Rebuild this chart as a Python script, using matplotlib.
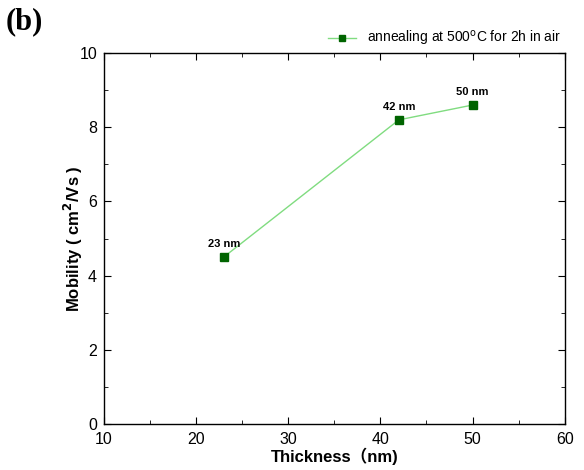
import matplotlib.pyplot as plt
from matplotlib.ticker import MultipleLocator

plt.rcParams['font.family'] = ['Liberation Sans', 'Noto Sans CJK SC', 'DejaVu Sans']

thickness = [23, 42, 50]
mobility = [4.5, 8.2, 8.6]
point_labels = ["23 nm", "42 nm", "50 nm"]

fig = plt.figure(figsize=(5.84, 4.70), dpi=100)
ax = fig.add_axes([0.178, 0.098, 0.789, 0.789])

ax.plot(thickness, mobility, color='#80dc80', lw=1.0, marker='s', ms=6,
        mfc='#006400', mec='#006400',
        label=r'annealing at 500$^{\mathrm{o}}$C for 2h in air')

for x, y, t in zip(thickness, mobility, point_labels):
    ax.annotate(t, (x, y), xytext=(0, 6), textcoords='offset points',
                ha='center', va='bottom', fontsize=8, fontweight='bold')

ax.set_xlim(10, 60)
ax.set_ylim(0, 10)
ax.xaxis.set_major_locator(MultipleLocator(10))
ax.xaxis.set_minor_locator(MultipleLocator(5))
ax.yaxis.set_major_locator(MultipleLocator(2))
ax.yaxis.set_minor_locator(MultipleLocator(1))
ax.tick_params(which='both', direction='in', top=True, right=True, labelsize=11.5)
ax.tick_params(which='major', length=5)
ax.tick_params(which='minor', length=3)
ax.tick_params(axis='x', pad=6)
ax.tick_params(axis='y', pad=5)
for s in ax.spines.values():
    s.set_linewidth(1.0)

ax.set_xlabel('Thickness（nm)', fontsize=12, fontweight='bold', labelpad=0)
ax.set_ylabel(r'Mobility ( cm$^{\mathbf{2}}$/Vs )', fontsize=12, fontweight='bold', labelpad=-4)

ax.legend(loc='lower right', bbox_to_anchor=(1.01, 0.99), frameon=False,
          fontsize=10, handlelength=2.0, markerscale=0.8, borderaxespad=0.2)

fig.text(0.01, 0.985, '(b)', fontsize=22, fontweight='bold', family='Liberation Serif',
         va='top', ha='left')

fig.savefig('out.png', dpi=100)
